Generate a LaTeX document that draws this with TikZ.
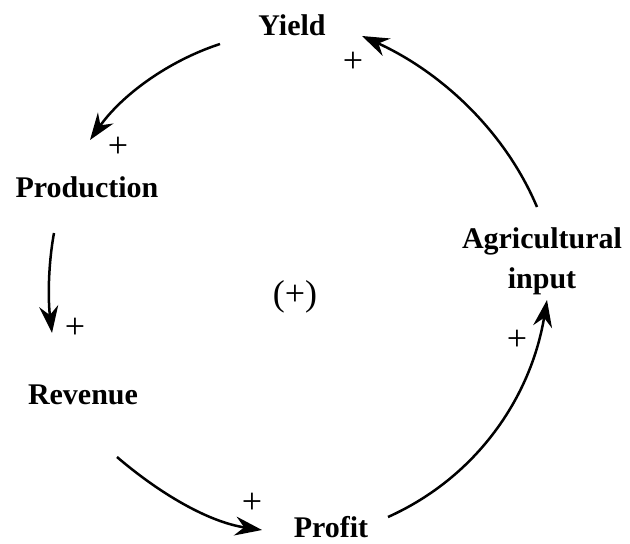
\documentclass[tikz,border=0pt]{standalone}
\usepackage{fontspec}
\setmainfont{Liberation Serif}
\usetikzlibrary{arrows.meta}
\begin{document}
\begin{tikzpicture}[x=1pt,y=-1pt,
  var/.style={font=\fontsize{30}{40}\selectfont\bfseries, inner sep=0pt, align=center},
  pol/.style={font=\fontsize{36}{40}\selectfont, inner sep=0pt},
  link/.style={line width=2.5pt, -{Stealth[length=27pt,width=19pt,inset=9pt]}}]
  \useasboundingbox (0,0) rectangle (630,544);

  % variables of the loop
  \node[var, anchor=base] (yield)  at (292,35)  {Yield};
  \node[var, anchor=base] (prod)   at (87,197)  {Production};
  \node[var, anchor=base] (rev)    at (83,404)  {Revenue};
  \node[var, anchor=base] (profit) at (331,537) {Profit};
  \node[var] (agri) at (542,261) {Agricultural\\input};
  \node[pol] (loop) at (295,297) {(+)};

  % link polarities
  \node[pol] (p1) at (353,62)  {+};
  \node[pol] (p2) at (118,147) {+};
  \node[pol] (p3) at (75,328)  {+};
  \node[pol] (p4) at (252,503) {+};
  \node[pol] (p5) at (517,340) {+};

  % causal links
  \draw[link] ([shift={(220-292,44-35)}]yield.base)
     .. controls +(-52,17) and +(32,-45) ..
     ([shift={(90-87,140-197)}]prod.base);
  \draw[link] ([shift={(54-87,233-197)}]prod.base)
     .. controls +(-6,33) and +(-4,-33) ..
     ([shift={(52-83,333-404)}]rev.base);
  \draw[link] ([shift={(117-83,457-404)}]rev.base)
     .. controls +(42,36) and +(-54,-8) ..
     ([shift={(262-331,530-537)}]profit.base);
  \draw[link] ([shift={(388-331,517-537)}]profit.base)
     .. controls +(89,-40) and +(-16,97) ..
     ([shift={(547-542,300-261)}]agri.center);
  \draw[link] ([shift={(537-542,207-261)}]agri.center)
     .. controls +(-33,-78) and +(77,35) ..
     ([shift={(362-292,36-35)}]yield.base);
\end{tikzpicture}
\end{document}
